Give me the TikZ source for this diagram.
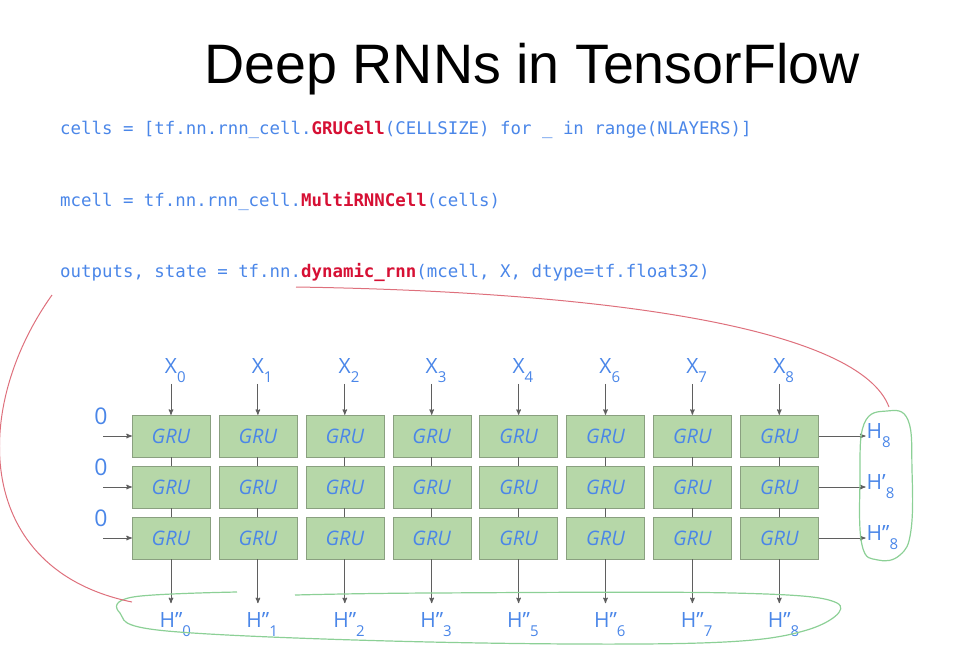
\documentclass[tikz,border=0pt]{standalone}
\usepackage{fontspec}
\setmainfont{Open Sans}
\setmonofont{DejaVu Sans Mono}
\newfontfamily\titlefont{Liberation Sans}
\usetikzlibrary{arrows, positioning, shapes}
\definecolor{codeblue}{RGB}{74,134,232}
\definecolor{keyred}{RGB}{214,16,52}
\definecolor{boxfill}{RGB}{182,215,168}
\definecolor{boxline}{RGB}{138,160,128}
\definecolor{arrgray}{RGB}{95,95,95}
\definecolor{loopgreen}{RGB}{140,208,150}
\definecolor{penred}{RGB}{222,112,124}
\newcommand{\lbl}[2]{#1\rlap{\raisebox{-9pt}{\fontsize{15}{15}\selectfont #2}}}
\tikzset{
        >=stealth', % small bold arrow heads
        arr/.style={->, draw=arrgray, line width=1pt},
        link/.style={draw=arrgray, line width=1pt},
        gru box/.style={
		draw=boxline,
		fill=boxfill,
		minimum width=78pt,
		minimum height=42pt,
		inner sep=0pt,
		text=codeblue,
		font=\fontsize{20}{20}\selectfont\itshape,
	  },
        lbl/.style={text=codeblue, inner sep=1pt, font=\fontsize{21}{21}\selectfont},
        out lbl/.style={lbl, inner ysep=9pt},
        code/.style={anchor=base west, inner sep=0pt, text=codeblue, font=\fontsize{17.4}{17.4}\selectfont\ttfamily},
        green loop/.style={draw=loopgreen, line width=1.2pt},
        red stroke/.style={draw=penred, line width=1pt},
    }

\begin{document}
\begin{tikzpicture}[x=1pt, y=-1pt]
    \useasboundingbox (0,0) rectangle (955,649);
    % title and code
    \node [anchor=base, inner sep=0pt, font=\titlefont\fontsize{55.6}{56}\selectfont] (title) at (532,83) {Deep RNNs in TensorFlow};
    \node [code] (c0) at (60,134) {cells = [tf.nn.rnn\_cell.\textcolor{keyred}{\bfseries GRUCell}(CELLSIZE) for \_ in range(NLAYERS)]};
    \node [code] (c1) at (60,206) {mcell = tf.nn.rnn\_cell.\textcolor{keyred}{\bfseries MultiRNNCell}(cells)};
    \node [code] (c2) at (60,277) {outputs, state = tf.nn.\textcolor{keyred}{\bfseries dynamic\_rnn}(mcell, X, dtype=tf.float32)};
    % the grid of cells
    \foreach \r in {0,1,2}
      \foreach \c in {0,...,7}
        \node [gru box] (g\r\c) at ({171+86.9*\c},{436+51*\r}) {GRU};
    \foreach \r in {0,1,2}
      \foreach \c [evaluate=\c as \n using int(\c+1)] in {0,...,6}
        \draw [link] (g\r\c) -- (g\r\n);
    \foreach \c in {0,...,7} {
        \draw [link] (g0\c) -- (g1\c);
        \draw [link] (g1\c) -- (g2\c);
    }
    % inputs on top, outputs below
    \foreach \c/\i/\o in {0/0/0,1/1/1,2/2/2,3/3/3,4/4/5,5/6/6,6/7/7,7/8/8} {
        \node [lbl, above=31pt of g0\c] (x\c) {\lbl{X}{\i}};
        \draw [arr] (x\c) -- (g0\c);
        \node [out lbl, below=44pt of g2\c] (h\c) {\lbl{H”}{\o}};
        \draw [arr] (g2\c) -- (h\c);
    }
    % initial states and final states
    \foreach \r/\t in {0/{\lbl{H}{8}},1/{\lbl{H’}{8}},2/{\lbl{H”}{8}}} {
        \node [lbl, font=\fontsize{23}{23}\selectfont] (z\r) at (101,{416+51*\r}) {0};
        \coordinate (s\r) at (103,{436+51*\r});
        \draw [arr] (s\r) -- (g\r0);
        \node [lbl, right=47pt of g\r7] (f\r) {\t};
        \draw [arr] (g\r7) -- (f\r);
    }
    % hand drawn marks
    \draw [green loop] plot [smooth cycle, tension=0.7] coordinates {(887,411) (864,424) (860,480) (862,545) (878,560) (900,555) (911,530) (912,470) (908,420)};
    \draw [green loop] plot [smooth, tension=0.6] coordinates {(237,592) (133,597) (120,613) (167,631) (430,642) (700,643) (807,630) (837,603) (733,593) (430,593) (295,595)};
    \draw [red stroke] (296,287) .. controls (620,292) and (860,330) .. (889,407);
    \draw [red stroke] (52,295) .. controls (-30,410) and (-25,570) .. (132,602);
\end{tikzpicture}
\end{document}
